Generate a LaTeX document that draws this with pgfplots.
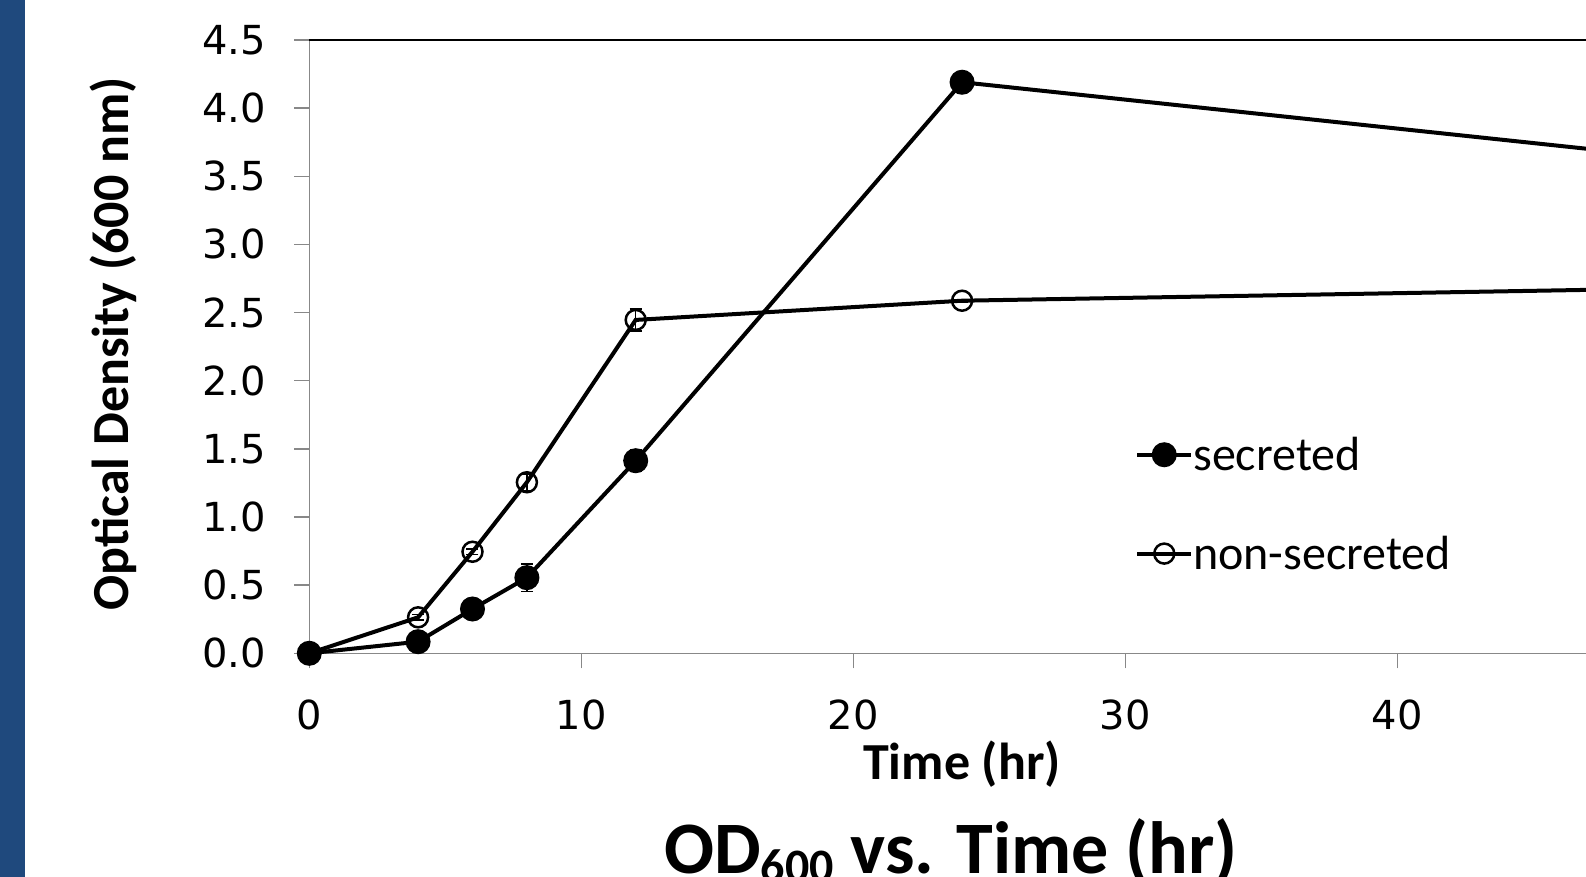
\documentclass[border=0pt]{standalone}
\usepackage{fontspec}
\setmainfont{Carlito}
\newfontfamily\tickfont{DejaVu Sans}
\usepackage{pgfplots}
\pgfplotsset{compat=1.18}
\definecolor{barblue}{HTML}{1F497D}
\definecolor{axgray}{HTML}{888888}

\pgfplotstableread{
x y e
0 0.00 0.00
4 0.085 0.01
6 0.325 0.01
8 0.555 0.10
12 1.413 0.08
24 4.19 0.01
48 3.68 0.0
}\secreted

\pgfplotstableread{
x y e
0 0.00 0.00
4 0.264 0.02
6 0.745 0.02
8 1.255 0.06
12 2.446 0.08
24 2.587 0.01
48 2.67 0.0
}\nonsecreted

\begin{document}
\begin{tikzpicture}[x=1pt,y=1pt]
\useasboundingbox (0,0) rectangle (1586,877);
\clip (0,0) rectangle (1586,877);
\fill[barblue] (0,0) rectangle (25,877);
\begin{axis}[
  at={(309.3pt,223.7pt)}, anchor=south west,
  scale only axis, width=1360pt, height=613.3pt,
  xmin=0, xmax=50, ymin=0, ymax=4.5,
  clip=false,
  axis x line*=bottom, axis y line*=left,
  axis line style={-, draw=axgray, line width=1.5pt},
  xtick={0,10,...,50}, ytick={0,0.5,...,4.5},
  tick align=outside, major tick length=15pt,
  tick style={draw=axgray, line width=1.5pt},
  ticklabel style={font=\fontsize{40}{44}\selectfont\tickfont},
  /pgf/number format/assume math mode=true,
  yticklabel style={xshift=-25pt, /pgf/number format/fixed, /pgf/number format/fixed zerofill, /pgf/number format/precision=1},
  xticklabel style={yshift=-28pt},
  legend style={draw=none, fill=none, at={(axis cs:30.36,1.586)}, anchor=north west,
    font=\fontsize{48}{56}\selectfont, row sep=64pt, inner sep=0pt,
    nodes={inner sep=0pt}},
  /tikz/every even column/.append style={column sep=6pt},
  legend cell align=left,
  reverse legend,
  legend image code/.code={\draw[mark repeat=2,mark phase=2] plot coordinates {(0pt,0pt)(27pt,0pt)(54pt,0pt)};},
  extra description/.code={\draw[black, line width=1.5pt] (rel axis cs:0,1) -- (rel axis cs:1,1);},
]
\addplot[black, line width=4pt, mark=o, mark size=10pt,
  mark options={line width=2.5pt, solid},
  error bars/.cd, y dir=both, y explicit,
  error bar style={line width=1.5pt, black},
  error mark options={rotate=90, mark size=6pt, line width=1.5pt, black}]
  table[x=x, y=y, y error=e] {\nonsecreted};
\addlegendentry{non-secreted}
\addplot[black, line width=4pt, mark=*, mark size=10.5pt,
  mark options={solid, fill=black},
  error bars/.cd, y dir=both, y explicit,
  error bar style={line width=1.5pt, black},
  error mark options={rotate=90, mark size=6pt, line width=1.5pt, black}]
  table[x=x, y=y, y error=e] {\secreted};
\addlegendentry{secreted}
\end{axis}
\node[rotate=90, anchor=base, font=\fontsize{52}{60}\selectfont\bfseries] at (128.5,533) {Optical Density (600 nm)};
\node[anchor=base, font=\fontsize{52}{60}\selectfont\bfseries] at (962,97) {Time (hr)};
\node[anchor=base, font=\fontsize{74}{80}\selectfont\bfseries] at (951,3) {OD\raisebox{-0.12em}{\fontsize{48}{50}\selectfont 600} vs. Time (hr)};
\end{tikzpicture}
\end{document}
